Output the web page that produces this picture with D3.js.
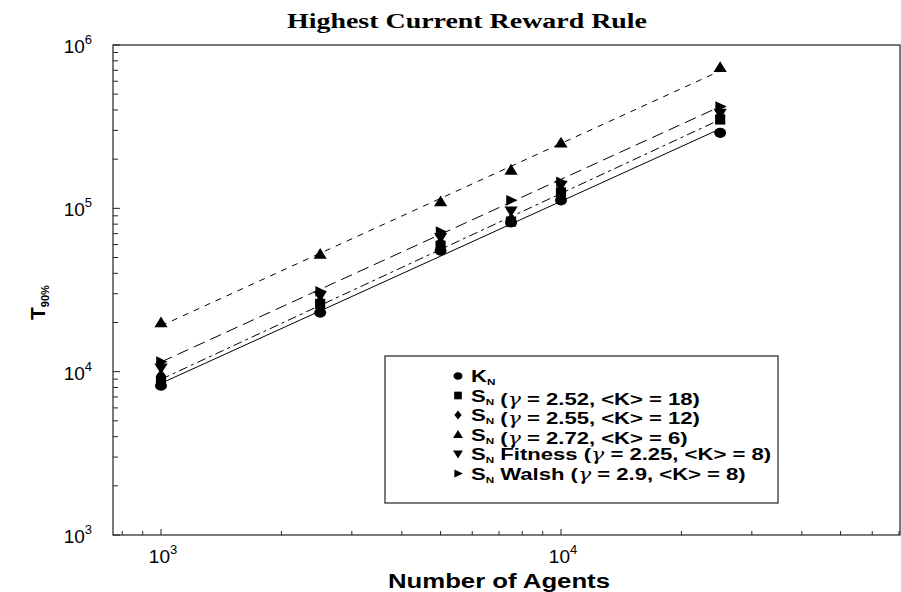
<!DOCTYPE html>
<html>
<head>
<meta charset="utf-8">
<script src="https://cdn.jsdelivr.net/npm/d3@7"></script>
<style>
  body { margin: 0; background: #fff; }
  svg { display: block; }
  text { fill: #000; }
</style>
</head>
<body>
<svg id="chart" width="901" height="592"></svg>
<script>
// Number of agents in each run
const agents = [1000, 2500, 5000, 7500, 10000, 25000];

// Time to reach 90% (T_90%) for each network
const kN        = [8200, 23000, 55000, 82000, 112000, 290000];
const sN18      = [8800, 26000, 59000, 83000, 125000, 350000];
const sN12      = [9500, 27000, 62000, 86000, 130000, 365000];
const sN6       = [20000, 52500, 110000, 172000, 252000, 730000];
const sNFitness = [10500, 29000, 66000, 96000, 138000, 380000];
const sNWalsh   = [11500, 31000, 72000, 112000, 145000, 420000];

// legend labels: [prefix, gamma value, <K> value]
const seriesPrefix = ["K", "S", "S", "S", "S Fitness", "S Walsh"];
const seriesGamma  = [null, "2.52", "2.55", "2.72", "2.25", "2.9"];
const seriesK      = [null, "18", "12", "6", "8", "8"];
const seriesValues = [kN, sN18, sN12, sN6, sNFitness, sNWalsh];
const seriesSymbols = ["circle", "square", "diamond", "triUp", "triDown", "triRight"];

// Power-law fit lines: which series, and dash pattern
const fitSeries = [0, 1, 5, 3];
const fitDash = [null, "9,4,3,4", "12,6", "6,6"];

const xTicks = [1e3, 1e4];
const yTicks = [1e3, 1e4, 1e5, 1e6];

const svg = d3.select("#chart");
const L = 113, R = 900, T = 45, B = 535;
const SANS = "Liberation Sans, Arial, sans-serif";

const x = d3.scaleLog().domain([Math.pow(10, 2.88), Math.pow(10, 4.8475)]).range([L, R]);
const y = d3.scaleLog().domain([1e3, 1e6]).range([B, T]);

// frame
svg.append("rect").attr("x", L).attr("y", T).attr("width", R - L).attr("height", B - T)
  .attr("fill", "none").attr("stroke", "#333").attr("stroke-width", 1.3);

// y ticks (inside)
const yMinor = [];
for (let e = 3; e < 6; e++) for (let m = 1; m < 10; m++) yMinor.push(m * Math.pow(10, e));
yMinor.push(1e6);
svg.append("g").selectAll("line").data(yMinor).join("line")
  .attr("x1", L).attr("x2", d => yTicks.includes(d) ? L + 7 : L + 5)
  .attr("y1", d => y(d)).attr("y2", d => y(d))
  .attr("stroke", "#222").attr("stroke-width", 1);

// x ticks (inside)
const xMinor = [];
for (let e = 2; e < 5; e++) for (let m = 1; m < 10; m++) {
  const v = m * Math.pow(10, e);
  if (v >= x.domain()[0] && v <= x.domain()[1]) xMinor.push(v);
}
svg.append("g").selectAll("line").data(xMinor).join("line")
  .attr("x1", d => x(d)).attr("x2", d => x(d))
  .attr("y1", B).attr("y2", d => xTicks.includes(d) ? B - 6 : B - 4)
  .attr("stroke", "#222").attr("stroke-width", 1);

// tick labels as 10^n
function powLabel(g, px, py, exp, anchorRight) {
  const t = g.append("text").attr("font-family", SANS)
    .attr("font-size", 19).attr("x", px).attr("y", py)
    .attr("text-anchor", anchorRight ? "end" : "middle");
  t.append("tspan").text("10");
  t.append("tspan").attr("font-size", 13).attr("dy", -9).text(exp);
}
const yl = svg.append("g");
yTicks.forEach(v => powLabel(yl, 92, y(v) + 8, Math.round(Math.log10(v)), true));
const xl = svg.append("g");
xTicks.forEach(v => powLabel(xl, x(v) + 2, 563, Math.round(Math.log10(v)), false));

// title
svg.append("text").attr("x", 287).attr("y", 28)
  .attr("font-family", "Liberation Serif, Times New Roman, serif").attr("font-weight", "bold")
  .attr("font-size", 21).attr("textLength", 360).attr("lengthAdjust", "spacingAndGlyphs")
  .text("Highest Current Reward Rule");

// axis titles
svg.append("text").attr("x", 388).attr("y", 588)
  .attr("font-family", SANS).attr("font-weight", "bold")
  .attr("font-size", 20).attr("textLength", 222).attr("lengthAdjust", "spacingAndGlyphs")
  .text("Number of Agents");
const yt = svg.append("text").attr("transform", "translate(45,320) rotate(-90)")
  .attr("font-family", SANS).attr("font-weight", "bold")
  .attr("font-size", 21);
yt.append("tspan").text("T");
yt.append("tspan").attr("font-size", 11).attr("dy", 4).text("90%");

// least squares fit in log-log space
function fit(vals) {
  const lx = agents.map(Math.log10), ly = vals.map(Math.log10);
  const mx = d3.mean(lx), my = d3.mean(ly);
  const b = d3.sum(lx.map((v, i) => (v - mx) * (ly[i] - my))) / d3.sum(lx.map(v => (v - mx) ** 2));
  const a = my - b * mx;
  return n => Math.pow(10, a + b * Math.log10(n));
}
const lineG = svg.append("g");
fitSeries.forEach((si, k) => {
  const f = fit(seriesValues[si]);
  const pts = [agents[0], agents[agents.length - 1]].map(n => [n, f(n)]);
  lineG.append("path")
    .attr("d", d3.line().x(d => x(d[0])).y(d => y(d[1]))(pts))
    .attr("fill", "none").attr("stroke", "#000").attr("stroke-width", 1)
    .attr("stroke-dasharray", fitDash[k]);
});

// marker shapes
function symbolPath(kind, s) {
  switch (kind) {
    case "circle": return `M${-s},0 a${s},${s*0.85} 0 1,0 ${2*s},0 a${s},${s*0.85} 0 1,0 ${-2*s},0 Z`;
    case "square": return `M${-s*0.85},${-s*0.85} h${1.7*s} v${1.7*s} h${-1.7*s} Z`;
    case "diamond": return `M0,${-s} L${s*0.8},0 L0,${s} L${-s*0.8},0 Z`;
    case "triUp": return `M0,${-s} L${s*1.1},${s*0.8} L${-s*1.1},${s*0.8} Z`;
    case "triDown": return `M0,${s} L${s*1.1},${-s*0.8} L${-s*1.1},${-s*0.8} Z`;
    case "triRight": return `M${s*1.1},0 L${-s*0.8},${s*0.9} L${-s*0.8},${-s*0.9} Z`;
  }
}
const markG = svg.append("g");
seriesValues.forEach((vals, si) => {
  markG.selectAll(null).data(vals).join("path")
    .attr("transform", (d, i) => `translate(${x(agents[i])},${y(d)})`)
    .attr("d", symbolPath(seriesSymbols[si], 6))
    .attr("fill", "#000");
});

// legend
const lg = svg.append("g");
lg.append("rect").attr("x", 385).attr("y", 356).attr("width", 393).attr("height", 147)
  .attr("fill", "#fff").attr("stroke", "#333").attr("stroke-width", 1.3);
seriesPrefix.forEach((pre, i) => {
  const cy = 376 + i * 19.5;
  lg.append("path").attr("transform", `translate(458,${cy})`)
    .attr("d", symbolPath(seriesSymbols[i], 4.5)).attr("fill", "#000");
  const t = lg.append("text").attr("transform", `translate(471,${cy + 6}) scale(1.38,1)`)
    .attr("font-family", SANS).attr("font-weight", "bold").attr("font-size", 16);
  t.append("tspan").text(pre.charAt(0));
  t.append("tspan").attr("font-size", 8.5).attr("dy", 3).text("N");
  const rest = t.append("tspan").attr("dy", -3);
  if (pre.length > 1) rest.text(pre.slice(1));
  if (seriesGamma[i]) {
    t.append("tspan").text(" (");
    t.append("tspan").attr("font-family", "DejaVu Serif, serif").attr("font-weight", "normal")
      .attr("font-style", "italic").text("γ");
    t.append("tspan").text(` = ${seriesGamma[i]}, <K> = ${seriesK[i]})`);
  }
});
</script>
</body>
</html>
